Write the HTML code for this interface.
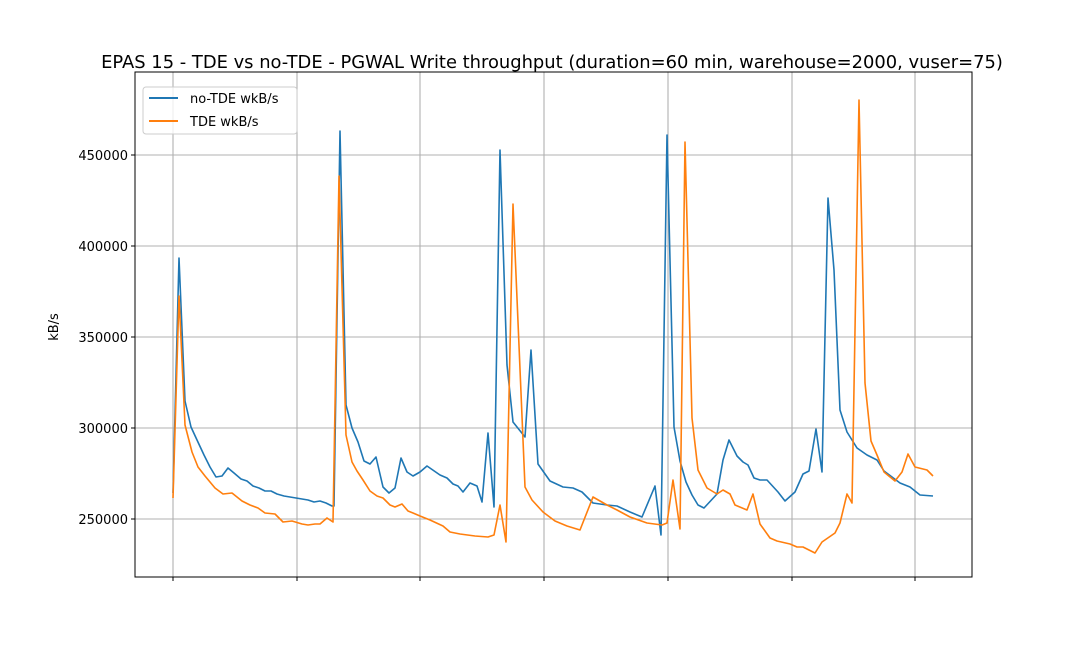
<!DOCTYPE html>
<html><head><style>body{margin:0;background:#fff}</style></head><body>
<svg width="1080" height="648" xmlns="http://www.w3.org/2000/svg" font-family="DejaVu Sans, Liberation Sans, sans-serif">
<rect width="1080" height="648" fill="#fff"/>
<text x="552" y="68" font-size="17.9" text-anchor="middle" fill="#000">EPAS 15 - TDE vs no-TDE - PGWAL Write throughput (duration=60 min, warehouse=2000, vuser=75)</text>
<g stroke="#b0b0b0" stroke-width="1.1">
<line x1="173" y1="72" x2="173" y2="577"/><line x1="297" y1="72" x2="297" y2="577"/><line x1="420" y1="72" x2="420" y2="577"/><line x1="544" y1="72" x2="544" y2="577"/><line x1="668" y1="72" x2="668" y2="577"/><line x1="792" y1="72" x2="792" y2="577"/><line x1="915" y1="72" x2="915" y2="577"/>
<line x1="135" y1="155" x2="972" y2="155"/><line x1="135" y1="246" x2="972" y2="246"/><line x1="135" y1="337" x2="972" y2="337"/><line x1="135" y1="428" x2="972" y2="428"/><line x1="135" y1="519" x2="972" y2="519"/>
</g>
<g stroke="#000" stroke-width="1">
<line x1="131" y1="155" x2="135" y2="155"/><line x1="131" y1="246" x2="135" y2="246"/><line x1="131" y1="337" x2="135" y2="337"/><line x1="131" y1="428" x2="135" y2="428"/><line x1="131" y1="519" x2="135" y2="519"/>
<line x1="173" y1="577" x2="173" y2="581"/><line x1="297" y1="577" x2="297" y2="581"/><line x1="420" y1="577" x2="420" y2="581"/><line x1="544" y1="577" x2="544" y2="581"/><line x1="668" y1="577" x2="668" y2="581"/><line x1="792" y1="577" x2="792" y2="581"/><line x1="915" y1="577" x2="915" y2="581"/>
</g>
<g font-size="13" text-anchor="end" fill="#000">
<text x="128" y="160">450000</text><text x="128" y="251">400000</text><text x="128" y="342">350000</text><text x="128" y="433">300000</text><text x="128" y="524">250000</text>
</g>
<text x="0" y="0" font-size="13" text-anchor="middle" transform="translate(58,327) rotate(-90)">kB/s</text>
<polyline fill="none" stroke="#1f77b4" stroke-width="1.6" stroke-linejoin="round" points="173,493 179,258 185,401 191,427 197,440 204,455 210,467 216,477 222,476 228,468 234,473 241,479 247,481 253,486 259,488 265,491 271,491 277,494 284,496 290,497 296,498 302,499 308,500 314,502 320,501 326,503 332,506 334,506 340,131 346,405 352,428 358,442 364,461 370,464 376,457 383,487 389,493 395,488 401,458 407,472 413,476 420,472 427,466 440,475 447,478 453,484 458,486 463,492 470,483 477,486 482,502 488,433 494,507 500,150 507,365 513,422 525,437 531,350 538,464 550,481 563,487 573,488 582,492 593,503 607,505 617,506 630,512 642,517 655,486 661,535 667,135 674,427 680,461 686,482 692,495 698,505 704,508 717,494 723,460 729,440 737,456 743,462 748,465 754,478 760,480 767,480 778,492 785,501 795,492 803,474 809,471 816,429 822,472 828,198 834,270 840,410 847,432 857,448 867,455 877,460 884,471 900,483 910,487 920,495 933,496"/>
<polyline fill="none" stroke="#ff7f0e" stroke-width="1.6" stroke-linejoin="round" points="173,498 179,296 185,425 192,452 198,467 205,476 215,488 223,494 232,493 242,501 250,505 258,508 265,513 275,514 283,522 292,521 302,524 308,525 315,524 320,524 327,518 333,522 339,176 346,435 352,462 357,471 363,480 370,491 377,496 383,498 390,505 395,507 402,504 408,511 413,513 420,516 430,520 443,526 450,532 460,534 475,536 488,537 494,535 500,505 506,542 513,204 525,487 532,500 543,512 555,521 567,526 580,530 593,497 607,505 617,510 630,517 647,523 662,525 667,523 673,480 680,529 685,142 692,418 698,470 707,488 717,494 723,490 730,494 735,505 747,510 753,494 760,524 770,538 777,541 790,544 797,547 803,547 815,553 822,542 835,533 840,523 847,494 852,503 859,100 865,383 871,441 877,455 884,472 895,481 902,472 908,454 915,467 927,470 933,476"/>
<rect x="143" y="87" width="154" height="47" rx="3" fill="#fff" fill-opacity="0.8" stroke="#ccc"/>
<line x1="149" y1="98" x2="178" y2="98" stroke="#1f77b4" stroke-width="2"/>
<line x1="149" y1="121" x2="178" y2="121" stroke="#ff7f0e" stroke-width="2"/>
<text x="190" y="103" font-size="13">no-TDE wkB/s</text>
<text x="190" y="126" font-size="13">TDE wkB/s</text>
<rect x="135" y="72" width="837" height="505" fill="none" stroke="#000" stroke-width="1"/>
</svg>
</body></html>
